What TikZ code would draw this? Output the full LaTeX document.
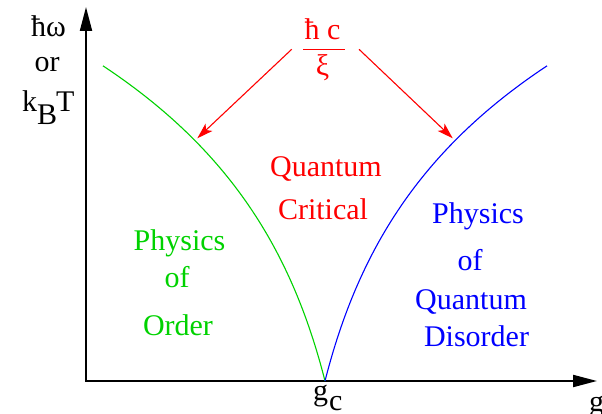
\documentclass[tikz,border=0pt]{standalone}
\usepackage{fontspec}
\newfontfamily\tnr{Liberation Serif}
\setmainfont{Liberation Serif}
\usetikzlibrary{arrows.meta}
\definecolor{lgreen}{RGB}{0,210,0}
\definecolor{lblue}{RGB}{0,0,255}
\definecolor{lred}{RGB}{255,0,0}
\tikzset{
  lbl/.style={anchor=base,inner sep=0pt,outer sep=0pt,font=\tnr\fontsize{30}{36}\selectfont},
  axis/.style={line width=2pt,-{Triangle[length=24pt,width=12pt]}},
  curve/.style={line width=1.1pt},
  redarrow/.style={lred,line width=1.1pt,-{Stealth[length=16pt,width=10pt,inset=4pt]}}
}
\begin{document}
\begin{tikzpicture}[x=1pt,y=-1pt]
\useasboundingbox (0,0) rectangle (602,414);
% axes
\coordinate (O) at (86,381);
\coordinate (ytip) at (86,7);
\coordinate (xtip) at (597,381);
\draw[axis] (O) -- (ytip);
\draw[axis] (85,381) -- (xtip);
% curves
\draw[curve,lgreen] plot[domain=0:222,samples=200] ({325-\x},{381-177*ln(1+\x/45)});
\draw[curve,lblue] plot[domain=0:222,samples=200] ({325+\x},{381-177*ln(1+\x/45)});
% axis labels
\node[lbl] (hw) at (48.5,36.7) {ħω};
\node[lbl] (or) at (47,71.7) {or};
\node[lbl,anchor=base west] (k) at (22,111.7) {k};
\node[lbl,anchor=base west] (B) at (k.base east) [yshift=-13pt] {B};
\node[lbl,anchor=base west] (T) at ([yshift=13pt,xshift=-1pt]B.base east) {T};
\node[lbl,anchor=base west] (g) at (313,400.5) {g};
\node[lbl,anchor=base west] (c) at ([yshift=-10pt,xshift=1pt]g.base east) {c};
\node[lbl,anchor=base west] (gx) at (589,411) {g};
% fraction
\node[lbl,lred] (hc) at (322.5,40) {ħ c};
\node[lbl,lred] (xi) at (322.5,76) {ξ};
\coordinate (barl) at (303,49.3);
\coordinate (barr) at (345,49.3);
\draw[lred,line width=1pt] (barl) -- (barr);
\coordinate (al) at (291.7,49.3);
\coordinate (ar) at (359,49.3);
\coordinate (tl) at (197.3,138.3);
\coordinate (tr) at (452.7,138.3);
\draw[redarrow] (al) -- (tl);
\draw[redarrow] (ar) -- (tr);
% region labels
\node[lbl,lred] (q1) at (326,176.7) {Quantum};
\node[lbl,lred] (q2) at (323,219) {Critical};
\node[lbl,lgreen] (o1) at (179.5,250) {Physics};
\node[lbl,lgreen] (o2) at (177,287) {of};
\node[lbl,lgreen] (o3) at (178,335) {Order};
\node[lbl,lblue] (d1) at (478,223) {Physics};
\node[lbl,lblue] (d2) at (470,270) {of};
\node[lbl,lblue] (d3) at (471,309) {Quantum};
\node[lbl,lblue] (d4) at (476.5,346.7) {Disorder};
\end{tikzpicture}
\end{document}
